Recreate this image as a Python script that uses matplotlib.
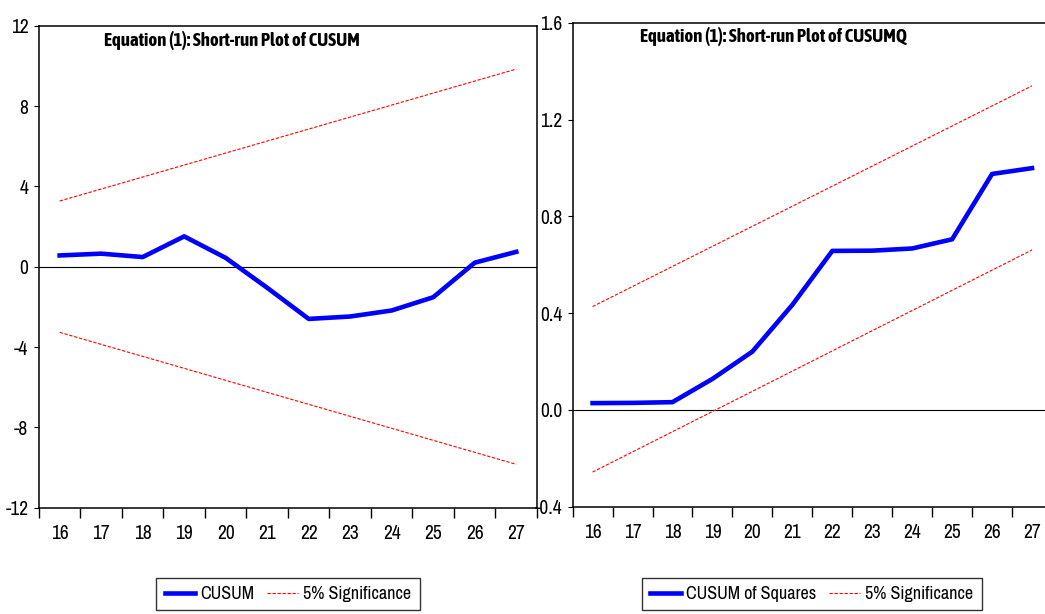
import numpy as np
import matplotlib
matplotlib.use("Agg")
import matplotlib.pyplot as plt
from matplotlib.ticker import FixedLocator

plt.rcParams['font.family'] = ['Archivo Narrow', 'Liberation Sans', 'DejaVu Sans']
TITLE_FONT = ['Asap Condensed', 'Liberation Sans']

################################################
### data
years = [16, 17, 18, 19, 20, 21, 22, 23, 24, 25, 26, 27]
cusum = [0.56, 0.65, 0.48, 1.51, 0.44, -1.05, -2.60, -2.48, -2.18, -1.52, 0.20, 0.74]
band_x = [16, 27]
cusum_upper = [3.27, 9.84]
cusum_lower = [-3.27, -9.84]

cusumsq = [0.028, 0.029, 0.032, 0.128, 0.241, 0.434, 0.657, 0.658, 0.667, 0.705, 0.975, 0.999]
cusumsq_upper = [0.427, 1.339]
cusumsq_lower = [-0.257, 0.661]

W, H = 1045, 614
fig = plt.figure(figsize=(W / 100, H / 100), dpi=100)

def px_axes(l, t, r, b):
    return fig.add_axes([l / W, 1 - b / H, (r - l) / W, (b - t) / H])

ax1 = px_axes(38.9, 25.7, 537, 507.7)
ax2 = px_axes(572.6, 22.7, 1052, 506.7)

def style(ax, ylim, yticks, ylabels):
    ax.set_xlim(15.5, 27.5)
    ax.set_ylim(*ylim)
    ax.set_yticks(yticks)
    ax.set_yticklabels(ylabels)
    ax.set_xticks(years)
    ax.set_xticklabels([str(y) for y in years])
    ax.xaxis.set_minor_locator(FixedLocator(np.arange(15.5, 28, 1.0)))
    ax.tick_params(axis='x', which='major', length=0, pad=12, labelsize=14)
    ax.tick_params(axis='x', which='minor', length=7.5, width=1.0, direction='out')
    ax.tick_params(axis='y', length=3.5, width=0.8, pad=4, labelsize=14, direction='out')
    for s in ax.spines.values():
        s.set_linewidth(1.1)
    ax.axhline(0, color='black', linewidth=0.8, zorder=1)

def add_legend(ax, handles, labels, xc):
    leg = ax.legend(handles, labels, loc='upper center',
                    bbox_to_anchor=(xc / W, 1 - 578 / H), bbox_transform=fig.transFigure,
                    ncol=2, frameon=True, fancybox=False, edgecolor='black', fontsize=13,
                    handlelength=1.7, columnspacing=0.7, handletextpad=0.3, borderpad=0.45,
                    borderaxespad=0)
    leg.get_frame().set_linewidth(1.0)

style(ax1, (-12, 12), [-12, -8, -4, 0, 4, 8, 12], ['-12', '-8', '-4', '0', '4', '8', '12'])
style(ax2, (-0.4, 1.6), [-0.4, 0.0, 0.4, 0.8, 1.2, 1.6], ['-0.4', '0.0', '0.4', '0.8', '1.2', '1.6'])

# CUSUM panel
l1, = ax1.plot(years, cusum, color='#0000ff', linewidth=3.3, zorder=3)
l2, = ax1.plot(band_x, cusum_upper, color='red', linewidth=0.8, dashes=(3, 1.5), zorder=2)
ax1.plot(band_x, cusum_lower, color='red', linewidth=0.8, dashes=(3, 1.5), zorder=2)
ax1.annotate('Equation (1): Short-run Plot of CUSUM', xy=(0, 1), xycoords='axes fraction',
             xytext=(65, -15), textcoords='offset pixels', ha='left', va='center',
             fontsize=13.5, fontweight='bold', family=TITLE_FONT)
add_legend(ax1, [l1, l2], ['CUSUM', '5% Significance'], 288)

# CUSUM of squares panel
m1, = ax2.plot(years, cusumsq, color='#0000ff', linewidth=3.3, zorder=3)
m2, = ax2.plot(band_x, cusumsq_upper, color='red', linewidth=0.8, dashes=(3, 1.5), zorder=2)
ax2.plot(band_x, cusumsq_lower, color='red', linewidth=0.8, dashes=(3, 1.5), zorder=2)
ax2.annotate('Equation (1): Short-run Plot of CUSUMQ', xy=(0, 1), xycoords='axes fraction',
             xytext=(67, -14), textcoords='offset pixels', ha='left', va='center',
             fontsize=13.5, fontweight='bold', family=TITLE_FONT)
add_legend(ax2, [m1, m2], ['CUSUM of Squares', '5% Significance'], 812)

fig.savefig('out.png', dpi=100)
